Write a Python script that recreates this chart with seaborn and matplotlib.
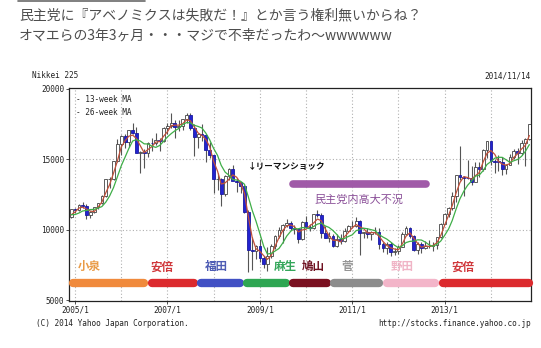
import numpy as np
import pandas as pd
import matplotlib
matplotlib.use("Agg")
import matplotlib.pyplot as plt
import matplotlib.dates as mdates
import seaborn as sns

# ---- Nikkei 225 monthly bars, Dec 2004 - Nov 2014 ----
months = pd.date_range("2004-12-01", periods=120, freq="MS")

opens = [10899,
         11489, 11388, 11741, 11669, 11009, 11277, 11584, 11900, 12414, 13574, 13607, 14872,
         16111, 16650, 16205, 17060, 16906, 15467, 15505, 15457, 16141, 16128, 16399, 16274,
         17226, 17383, 17604, 17288, 17400, 17876, 18138, 17249, 16569, 16786, 16738, 15681,
         15308, 13592, 13603, 12526, 13850, 14339, 13481, 13377, 13073, 11260, 8577, 8512,
         8860, 7994, 7568, 8110, 8828, 9523, 9958, 10357, 10493, 10133, 10035, 9345,
         10546, 10198, 10126, 11090, 11057, 9768, 9383, 9537, 8824, 9369, 9202, 9937,
         10229, 10237, 10624, 9755, 9850, 9694, 9816, 9833, 8955, 8700, 8988, 8435,
         8455, 8803, 9723, 10084, 9521, 8543, 9007, 8695, 8840, 8870, 8928, 9446,
         10395, 11139, 11559, 12398, 13861, 13775, 13677, 13668, 13389, 14456, 14328, 15662,
         16291, 14915, 14841, 14828, 14304, 14632, 15162, 15621, 15425, 16174, 16414]
highs = [11500,
         11540, 11800, 11975, 11800, 11350, 11600, 11900, 12460, 13600, 13750, 14900, 16445,
         16700, 16800, 17100, 17563, 17300, 15600, 15700, 16200, 16500, 16900, 16500, 17300,
         17600, 18300, 17800, 17800, 17900, 18300, 18262, 17500, 16800, 17489, 16800, 16200,
         15300, 14000, 13700, 13900, 14400, 14601, 13700, 13400, 13200, 11400, 9500, 8900,
         9350, 8100, 8800, 9000, 9600, 10170, 10400, 10770, 10600, 10300, 10100, 10640,
         10982, 10400, 11100, 11408, 11200, 10250, 9800, 9700, 9700, 9700, 10100, 10300,
         10600, 10890, 10700, 9800, 10100, 9900, 10200, 10100, 9100, 9100, 9100, 8700,
         8900, 9800, 10255, 10200, 9600, 9100, 9100, 9200, 9300, 9100, 9500, 10440,
         11200, 11600, 12650, 13900, 15942, 13800, 14953, 14500, 14800, 14800, 15750, 16320,
         16300, 15000, 15300, 15200, 14700, 15400, 15700, 15800, 16374, 16500, 17520]
lows = [10800,
        11200, 11350, 11550, 10770, 10825, 11200, 11500, 11800, 12300, 12996, 13500, 14800,
        15341, 15800, 15900, 16800, 15500, 14045, 14400, 15200, 15600, 16000, 15600, 16200,
        16800, 17200, 16500, 17000, 17100, 17600, 17100, 15262, 15800, 16300, 14800, 15100,
        12573, 12800, 11691, 12400, 13500, 13500, 12700, 12600, 11200, 6995, 7100, 7900,
        7700, 7300, 7054, 8000, 8600, 9400, 9050, 10200, 10000, 9700, 9076, 9300,
        10200, 9900, 10050, 10900, 9400, 9380, 9100, 8800, 8800, 9000, 9100, 9900,
        10100, 10200, 8227, 9400, 9400, 9300, 9700, 8600, 8400, 8300, 8160, 8200,
        8300, 8800, 9700, 9400, 8500, 8238, 8365, 8600, 8700, 8500, 8600, 9400,
        10400, 10900, 11400, 12000, 13500, 12415, 13600, 13200, 13400, 13750, 14200, 15100,
        14600, 13995, 14200, 13885, 13965, 14600, 15000, 14700, 15300, 14529, 16400]
closes = [11489,
          11388, 11741, 11669, 11009, 11277, 11584, 11900, 12414, 13574, 13607, 14872, 16111,
          16650, 16205, 17060, 16906, 15467, 15505, 15457, 16141, 16128, 16399, 16274, 17226,
          17383, 17604, 17288, 17400, 17876, 18138, 17249, 16569, 16786, 16738, 15681, 15308,
          13592, 13603, 12526, 13850, 14339, 13481, 13377, 13073, 11260, 8577, 8512, 8860,
          7994, 7568, 8110, 8828, 9523, 9958, 10357, 10493, 10133, 10035, 9345, 10546,
          10198, 10126, 11090, 11057, 9768, 9383, 9537, 8824, 9369, 9202, 9937, 10229,
          10237, 10624, 9755, 9850, 9694, 9816, 9833, 8955, 8700, 8988, 8435, 8455,
          8803, 9723, 10084, 9521, 8543, 9007, 8695, 8840, 8870, 8928, 9446, 10395,
          11139, 11559, 12398, 13861, 13775, 13677, 13668, 13389, 14456, 14328, 15662, 16291,
          14915, 14841, 14828, 14304, 14632, 15162, 15621, 15425, 16174, 16414, 17490]
# month-end closes Jun-Nov 2004, used to warm up the moving averages
lead_closes = [11858, 11326, 11082, 10824, 10771, 10899]

# ---- prime-minister periods shown along the bottom ----
pm_names = ["小泉", "安倍", "福田", "麻生", "鳩山", "菅", "野田", "安倍"]
pm_start = ["2004-11-14", "2006-08-05", "2007-08-28", "2008-08-22",
            "2009-08-25", "2010-07-16", "2011-09-01", "2012-11-20"]
pm_end = ["2006-07-31", "2007-08-28", "2008-08-22", "2009-08-25",
          "2010-07-16", "2011-09-01", "2012-11-17", "2014-11-30"]
pm_label_at = ["2005-04-25", "2006-11-15", "2008-01-25", "2009-07-18",
               "2010-02-25", "2010-11-20", "2012-01-30", "2013-05-25"]
pm_colors = ["#f08a3c", "#dc2a2e", "#4150c4", "#2ea652",
             "#7a1020", "#8c8c8c", "#f3b5c9", "#dc2a2e"]
pm_text_colors = ["#e99a45", "#d0383c", "#4e5cb4", "#34a65a",
                  "#6e1020", "#959595", "#f0b4c6", "#d0383c"]

# DPJ-era slump band and Lehman marker
slump_start, slump_end = "2009-08-25", "2012-09-05"
lehman_at = "2008-09-25"

# ---------------------------------------------------------------
W, H = 541, 348
sns.set_theme(style="white")
plt.rcParams["font.family"] = ["Noto Sans CJK JP", "DejaVu Sans"]

fig = plt.figure(figsize=(W / 100, H / 100), dpi=100)
fig.patch.set_facecolor("white")


def fx(px):
    return px / W


def fy(py):
    return 1 - py / H


ax = fig.add_axes([fx(69), fy(301), fx(531) - fx(69), fy(88) - fy(301)])
ax.set_facecolor("white")

x = mdates.date2num(months)
o = np.array(opens, float)
h = np.array(highs, float)
l = np.array(lows, float)
c = np.array(closes, float)

# moving averages (13 weeks ~ 3 months, 26 weeks ~ 6 months)
all_close = pd.Series(lead_closes + closes)
ma13 = all_close.rolling(3).mean().to_numpy()[len(lead_closes):]
ma26 = all_close.rolling(6).mean().to_numpy()[len(lead_closes):]
ma_df = pd.DataFrame({"x": np.concatenate([x, x]),
                      "v": np.concatenate([ma13, ma26]),
                      "s": ["13"] * len(x) + ["26"] * len(x)})

# grid
mono = "DejaVu Sans Mono"
year_ticks = mdates.date2num(pd.date_range("2005-01-01", "2014-01-01", freq="YS"))
for yt in year_ticks:
    ax.axvline(yt, color="#b0b0b0", lw=0.8, ls=(0, (1, 2)), zorder=0)
for yv in (10000, 15000):
    ax.axhline(yv, color="#b0b0b0", lw=0.8, ls=(0, (1, 2)), zorder=0)

# candles
up = c >= o
ax.vlines(x, l, h, color="#555555", lw=0.8, zorder=2)
width = 22
body_lo = np.minimum(o, c)
body_h = np.maximum(np.abs(c - o), 25)
ax.bar(x[up], body_h[up], bottom=body_lo[up], width=width, color="white",
       edgecolor="#444444", linewidth=0.6, zorder=3)
ax.bar(x[~up], body_h[~up], bottom=body_lo[~up], width=width, color="#2323d0",
       edgecolor="#1a1aa0", linewidth=0.6, zorder=3)

sns.lineplot(data=ma_df, x="x", y="v", hue="s",
             palette={"13": "#c0503a", "26": "#3fae48"},
             linewidth=0.9, legend=False, ax=ax, zorder=4)

# prime-minister bars
bar_y = 6200
for s, e, col in zip(pm_start, pm_end, pm_colors):
    xs, xe = mdates.date2num(pd.Timestamp(s)), mdates.date2num(pd.Timestamp(e))
    pad = 28
    ax.plot([xs + pad, xe - pad], [bar_y, bar_y], color=col, lw=6,
            solid_capstyle="round", zorder=5, clip_on=False)
for name, at, col in zip(pm_names, pm_label_at, pm_text_colors):
    ax.text(mdates.date2num(pd.Timestamp(at)), 7350, name, color=col,
            fontsize=8.3, fontweight="bold", ha="center", va="center", zorder=6)

# slump band and caption
ax.plot([mdates.date2num(pd.Timestamp(slump_start)) + 28,
         mdates.date2num(pd.Timestamp(slump_end)) - 28], [13230, 13230],
        color="#a05aa8", lw=5.5, solid_capstyle="round", zorder=5)
ax.text(mdates.date2num(pd.Timestamp("2011-02-25")), 12150, "民主党内高大不況",
        color="#8a4f98", fontsize=8, ha="center", va="center", zorder=6)
ax.text(mdates.date2num(pd.Timestamp(lehman_at)), 14500, "↓リーマンショック",
        color="#111111", fontsize=6.2, fontweight="bold", ha="left", va="center",
        zorder=6)

# MA key
ax.text(0.015, 0.965, "- 13-week MA", transform=ax.transAxes, family=mono,
        fontsize=5.6, color="#222222", ha="left", va="top")
ax.text(0.015, 0.905, "- 26-week MA", transform=ax.transAxes, family=mono,
        fontsize=5.6, color="#222222", ha="left", va="top")

# axes
ax.set_xlim(mdates.date2num(pd.Timestamp("2004-11-14")),
            mdates.date2num(pd.Timestamp("2014-11-14")))
ax.set_ylim(4930, 20070)
ax.set_yticks([5000, 10000, 15000, 20000])
ax.set_yticklabels(["5000", "10000", "15000", "20000"])
label_years = mdates.date2num(pd.date_range("2005-01-01", "2013-01-01", freq="2YS"))
ax.set_xticks(label_years)
ax.set_xticklabels(["2005/1", "2007/1", "2009/1", "2011/1", "2013/1"])
ax.set_xlabel("")
ax.set_ylabel("")
for lab in ax.get_xticklabels() + ax.get_yticklabels():
    lab.set_family(mono)
    lab.set_fontsize(5.6)
    lab.set_color("#222222")
ax.tick_params(axis="both", length=2, width=0.6, color="#333333", pad=1.5,
               direction="out")
ax.tick_params(axis="x", bottom=True)
ax.tick_params(axis="y", left=True)
for sp in ax.spines.values():
    sp.set_color("#222222")
    sp.set_linewidth(0.9)

# figure texts
fig.text(fx(32), fy(76), "Nikkei 225", family=mono, fontsize=5.6,
         color="#222222", ha="left", va="center")
fig.text(fx(531), fy(76), "2014/11/14", family=mono, fontsize=5.6,
         color="#222222", ha="right", va="center")
fig.text(fx(36), fy(324), "(C) 2014 Yahoo Japan Corporation.", family=mono,
         fontsize=5.6, color="#222222", ha="left", va="center")
fig.text(fx(531), fy(324), "http://stocks.finance.yahoo.co.jp", family=mono,
         fontsize=5.6, color="#222222", ha="right", va="center")

fig.text(fx(19), fy(15), "民主党に『アベノミクスは失敗だ！』とか言う権利無いからね？",
         fontsize=10, color="#4d4d4d", ha="left", va="center")
fig.text(fx(19), fy(36), "オマエらの3年3ヶ月・・・マジで不幸だったわ〜wwwwww",
         fontsize=10, color="#4d4d4d", ha="left", va="center")
fig.add_artist(plt.Line2D([fx(18), fx(145)], [fy(1), fy(1)], color="#6a6a6a",
                          lw=1.2, transform=fig.transFigure))

fig.savefig("out.png", dpi=100, facecolor="white")
